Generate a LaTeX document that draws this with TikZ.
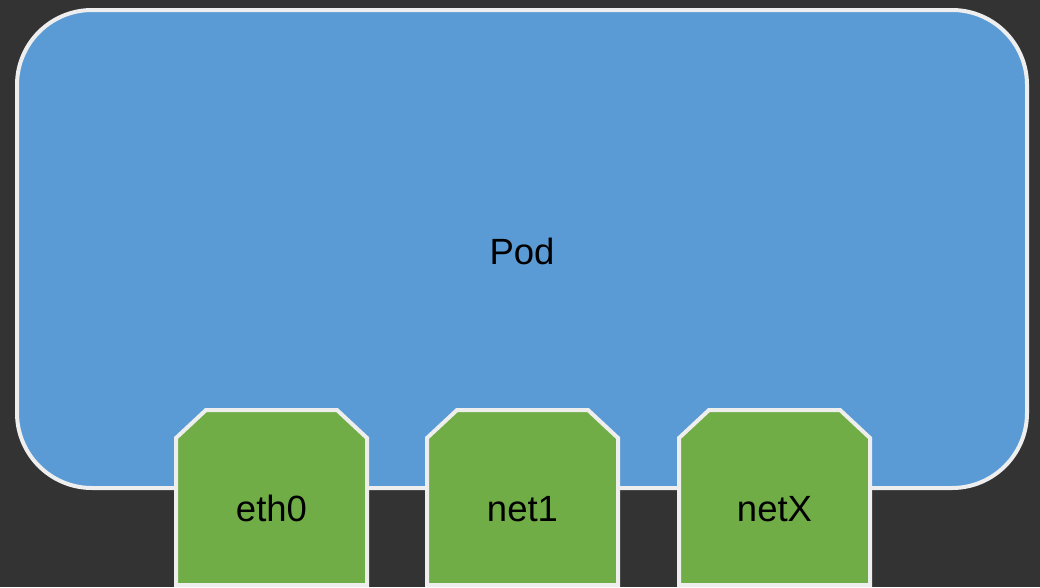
\documentclass[tikz,border=0pt]{standalone}
\usepackage{fontspec}
\setmainfont{Liberation Sans}
\definecolor{bgdark}{HTML}{333333}
\definecolor{podblue}{HTML}{5B9BD5}
\definecolor{ifgreen}{HTML}{70AD47}
\definecolor{edgewhite}{HTML}{EEEEEE}
\begin{document}
\begin{tikzpicture}[x=1pt,y=-1pt,
  podstyle/.style={fill=podblue,draw=edgewhite,line width=4pt,rounded corners=75pt},
  ifstyle/.style={fill=ifgreen,draw=edgewhite,line width=4pt,line join=miter},
  lbl/.style={font=\fontsize{36.5}{40}\selectfont,text=black,inner sep=0pt,anchor=base}]
\useasboundingbox (0,0) rectangle (1040,587);
\fill[bgdark] (0,0) rectangle (1040,587);
\draw[podstyle] (17,10) rectangle (1027,488);
\node[lbl] (pod) at (522,264) {Pod};
\foreach \xl/\nm/\tx in {176/eth/eth0,427/neta/net1,679/netx/netX}{
  \draw[ifstyle] (\xl,585) -- (\xl,438) -- (\xl+30,410) -- (\xl+161,410) -- (\xl+191,438) -- (\xl+191,585) -- cycle;
  \node[lbl] (\nm) at (\xl+95.5,521) {\tx};
}
\end{tikzpicture}
\end{document}
